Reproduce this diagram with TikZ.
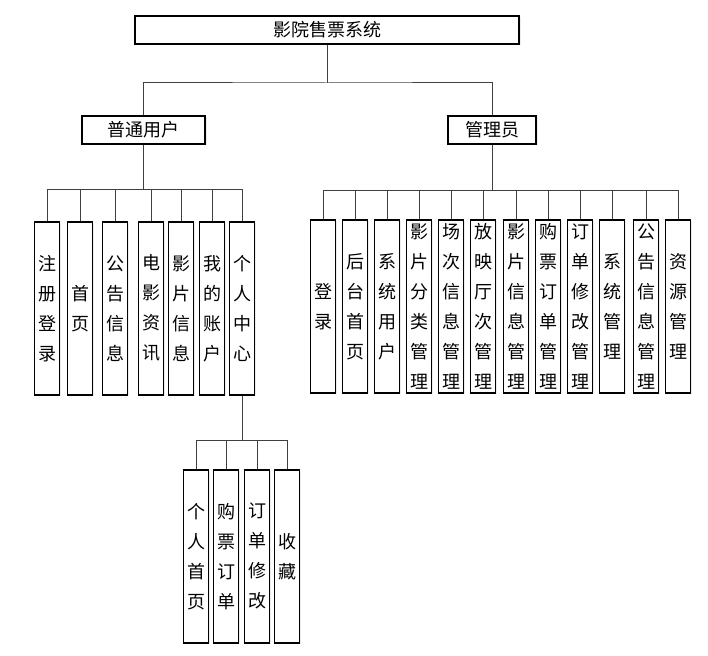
\documentclass[tikz,border=0pt]{standalone}
\usepackage{fontspec}
\setmainfont{Noto Sans CJK SC}
\usetikzlibrary{shadows}

\tikzset{
  box/.style={draw=black,line width=1.6pt,fill=white,inner sep=0pt,
    font=\fontsize{18}{30}\selectfont,
    drop shadow={shadow xshift=1.5pt,shadow yshift=-1.5pt,opacity=0.15}},
  leaf/.style={box,minimum width=25pt,minimum height=173pt,anchor=north,align=center},
  wire/.style={draw=black!75,line width=1pt}
}

\begin{document}
\begin{tikzpicture}[x=1pt,y=-1pt]
\useasboundingbox (0,0) rectangle (708,655);
% top levels
\node[box,minimum width=384pt,minimum height=28pt] (sys) at (327,30) {影院售票系统};
\node[box,minimum width=123pt,minimum height=28pt] (user) at (143.5,130) {普通用户};
\node[box,minimum width=88pt,minimum height=28pt] (admin) at (492,130) {管理员};
\coordinate (busT) at (327,83);
\coordinate (busL) at (143.5,189);
\coordinate (busR) at (492,190);
\coordinate (busC) at (242,440);
\draw[wire] (sys.south) -- (busT);
\draw[wire] (user.north) |- (busT) -| (admin.north);
\draw[wire] (user.south) -- (busL);
\draw[wire] (admin.south) -- (busR);
% user leaves
\foreach \n/\x/\t in {reg/47/{注\\册\\登\\录},home/80/{首\\页},notice/115/{公\\告\\信\\息},news/151/{电\\影\\资\\讯},film/181/{影\\片\\信\\息},acct/212/{我\\的\\账\\户},center/242/{个\\人\\中\\心}}{
  \node[leaf] (\n) at (\x,221) {\t};
  \draw[wire] (busL) -| (\n.north);
}
% admin leaves
\foreach \n/\x/\t in {login/323/{登\\录},back/355/{后\\台\\首\\页},sysuser/387/{系\\统\\用\\户},cat/419/{影\\片\\分\\类\\管\\理},show/451/{场\\次\\信\\息\\管\\理},hall/483/{放\\映\\厅\\次\\管\\理},filmm/516/{影\\片\\信\\息\\管\\理},ticket/548/{购\\票\\订\\单\\管\\理},modify/580/{订\\单\\修\\改\\管\\理},sysm/612/{系\\统\\管\\理},noticem/646/{公\\告\\信\\息\\管\\理},res/678/{资\\源\\管\\理}}{
  \node[leaf] (\n) at (\x,219) {\t};
  \draw[wire] (busR) -| (\n.north);
}
% personal center
\draw[wire] (center.south) -- (busC);
\foreach \n/\x/\t in {phome/196/{个\\人\\首\\页},porder/226/{购\\票\\订\\单},pmod/257/{订\\单\\修\\改},fav/287/{收\\藏}}{
  \node[leaf] (\n) at (\x,469) {\t};
  \draw[wire] (busC) -| (\n.north);
}
\end{tikzpicture}
\end{document}
